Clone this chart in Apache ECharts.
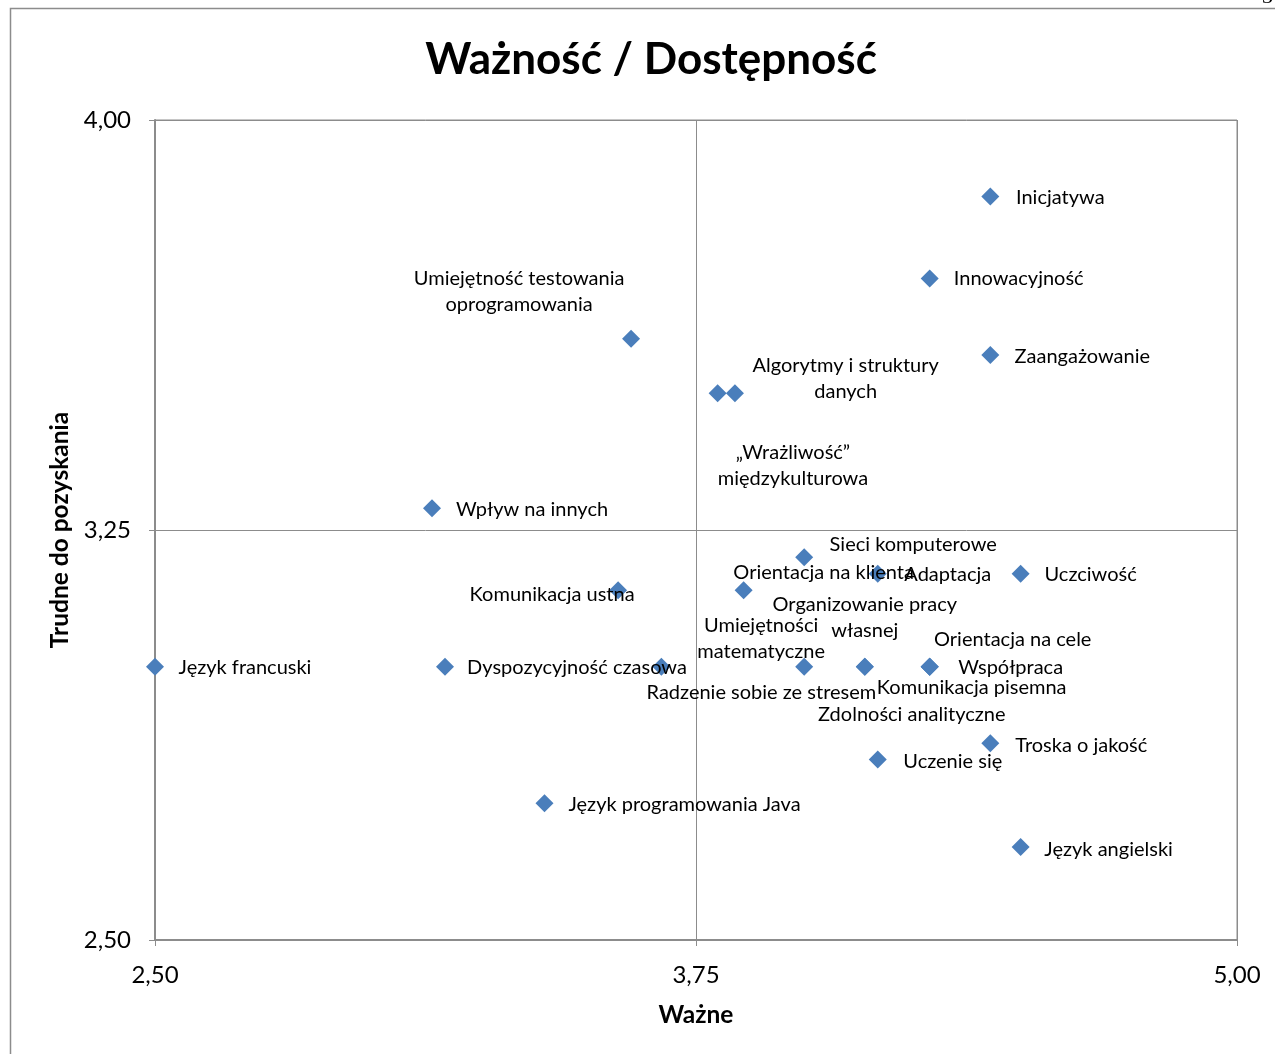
<!DOCTYPE html>
<html>
<head>
<meta charset="utf-8">
<script src="https://cdn.jsdelivr.net/npm/echarts@6/dist/echarts.min.js"></script>
<style>html,body{margin:0;padding:0;background:#fff;}#c{width:1275px;height:1054px;}</style>
</head>
<body>
<div id="c"></div>
<script>
// ---- data ----
const itemNames = [
  'Inicjatywa', 'Innowacyjność', 'Zaangażowanie',
  'Umiejętność testowania\noprogramowania', 'Algorytmy i struktury\ndanych', '„Wrażliwość”\nmiędzykulturowa',
  'Wpływ na innych', 'Sieci komputerowe', 'Orientacja na klienta', 'Adaptacja', 'Uczciwość',
  'Komunikacja ustna', 'Organizowanie pracy\nwłasnej', 'Umiejętności\nmatematyczne', 'Orientacja na cele',
  'Język francuski', 'Dyspozycyjność czasowa', 'Współpraca', 'Radzenie sobie ze stresem',
  'Komunikacja pisemna', 'Zdolności analityczne', 'Troska o jakość', 'Uczenie się',
  'Język programowania Java', 'Język angielski'
];
const importance = [
  4.43, 4.29, 4.43,
  3.60, 3.80, 3.84,
  3.14, 4.00, 3.86, 4.17, 4.50,
  3.57, 4.14, 4.00, 4.29,
  2.50, 3.17, 4.29, 3.67,
  4.29, 4.14, 4.43, 4.17,
  3.40, 4.50
];
const difficulty = [
  3.86, 3.71, 3.57,
  3.60, 3.50, 3.50,
  3.29, 3.20, 3.14, 3.17, 3.17,
  3.14, 3.00, 3.00, 3.00,
  3.00, 3.00, 3.00, 3.00,
  3.00, 3.00, 2.86, 2.83,
  2.75, 2.67
];
const xTicks = [2.5, 3.75, 5.0];
const yTicks = [2.5, 3.25, 4.0];

// ---- layout of labels (pixel offsets of label centre from the marker centre) ----
const labelOffsets = [
  [70, 1], [89, 0], [92, 1],
  [-112, -47], [128, -15], [58, 72],
  [100, 1], [109, -13], [80, -18], [70, 1], [70, 1],
  [-66, 4], [0, -49], [-43, -28], [83, -27],
  [90, 1], [132, 1], [81, 1], [100, 26],
  [42, 21], [47, 48], [91, 2], [75, 2],
  [140, 1], [88, 2]
];
const SYMBOL = 18;

const fmt = v => v.toFixed(2).replace('.', ',');
const FONT = 'Lato';

const seriesData = itemNames.map((n, i) => ({
  name: n,
  value: [importance[i], difficulty[i]],
  label: { position: [SYMBOL / 2 + labelOffsets[i][0], SYMBOL / 2 + labelOffsets[i][1]] }
}));

const chart = echarts.init(document.getElementById('c'), null, { renderer: 'canvas' });
chart.setOption({
  backgroundColor: '#fff',
  animation: false,
  title: {
    text: 'Ważność / Dostępność',
    left: 646, top: 33, textAlign: 'center',
    textStyle: { fontFamily: FONT, fontWeight: 'bold', fontSize: 44, color: '#000' }
  },
  graphic: [
    { type: 'rect', shape: { x: 10.5, y: 8.5, width: 1400, height: 1200 }, style: { fill: 'none', stroke: '#8c8c8c', lineWidth: 1.5 }, silent: true },
    { type: 'text', left: 1262, top: -14, style: { text: '3', fontFamily: 'Liberation Serif', fontSize: 22, fill: '#000' }, silent: true }
  ],
  grid: {
    left: 155, right: 38, top: 120, bottom: 114,
    show: true, borderColor: '#8c8c8c', borderWidth: 1, backgroundColor: 'transparent'
  },
  xAxis: {
    type: 'value', min: 2.5, max: 5.0, interval: 1.25,
    name: 'Ważne', nameLocation: 'middle', nameGap: 63,
    nameTextStyle: { fontFamily: FONT, fontWeight: 'bold', fontSize: 24.5, color: '#000' },
    axisLine: { show: true, lineStyle: { color: '#8c8c8c', width: 2 } },
    axisTick: { show: true, inside: false, length: 6, lineStyle: { color: '#8c8c8c' } },
    axisLabel: { fontFamily: FONT, fontSize: 24, color: '#000', margin: 23, formatter: fmt },
    splitLine: { show: true, lineStyle: { color: '#8c8c8c', width: 1 } }
  },
  yAxis: {
    type: 'value', min: 2.5, max: 4.0,
    name: 'Trudne do pozyskania', nameLocation: 'middle', nameGap: 80,
    nameTextStyle: { fontFamily: FONT, fontWeight: 'bold', fontSize: 24.5, color: '#000' },
    axisLine: { show: true, lineStyle: { color: '#8c8c8c', width: 2 } },
    axisTick: { show: true, inside: false, length: 6, customValues: yTicks, lineStyle: { color: '#8c8c8c' } },
    axisLabel: { fontFamily: FONT, fontSize: 24, color: '#000', margin: 24, customValues: yTicks, formatter: fmt },
    splitLine: { show: true, lineStyle: { color: '#8c8c8c', width: 1 } }
  },
  series: [{
    type: 'scatter',
    symbol: 'diamond',
    symbolSize: SYMBOL,
    clip: false,
    itemStyle: { color: '#4a7ebb', opacity: 1 },
    label: {
      show: true,
      align: 'center',
      verticalAlign: 'middle',
      formatter: p => p.name,
      fontFamily: FONT, fontSize: 20, color: '#000', lineHeight: 26
    },
    emphasis: { disabled: true },
    labelLayout: { hideOverlap: false },
    data: seriesData
  }]
});
</script>
</body>
</html>
